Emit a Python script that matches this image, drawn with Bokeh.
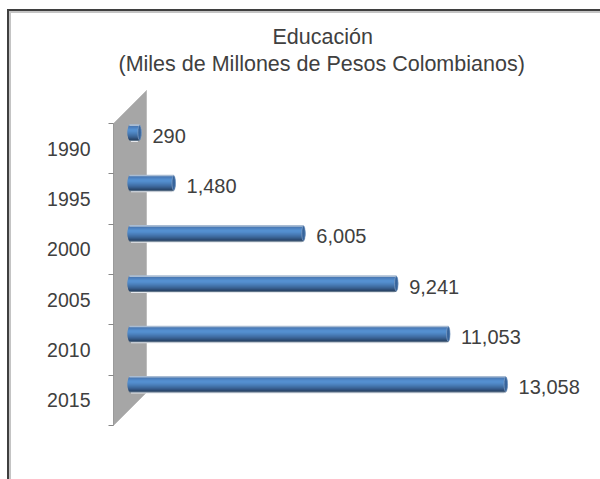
import math
from bokeh.plotting import figure
from bokeh.models import Range1d, FixedTicker, Title, ColumnDataSource
from bokeh.core.properties import value
from bokeh.embed import file_html
from bokeh.resources import INLINE

years = ["1990", "1995", "2000", "2005", "2010", "2015"]
valores = [290, 1480, 6005, 9241, 11053, 13058]
titulo_1 = "Educación"
titulo_2 = "(Miles de Millones de Pesos Colombianos)"

# layout (page pixels -> data)
FONT = "Liberation Sans"
OX, OY = 7, 9
W, H = 600 - OX, 479 - OY
PX_PER_VALUE = 0.02868
ZERO_PX = 132.6
AXIS_PX = 113
FRAME_TOP_PX = 76
PX_PER_CAT = 50.33
CAT_TOP_PX = 123
FRAME_BOTTOM_PX = 479
def dx(px): return px / PX_PER_VALUE
def dy(px): return px / PX_PER_CAT

x0 = -dx(ZERO_PX - AXIS_PX)
x1 = dx(600 - ZERO_PX)
y_top = -dy(CAT_TOP_PX - FRAME_TOP_PX)
y_bot = dy(FRAME_BOTTOM_PX - CAT_TOP_PX)

p = figure(width=W, height=H, output_backend="svg", toolbar_location=None,
           x_range=Range1d(x0, x1), y_range=Range1d(y_bot, y_top),
           min_border_left=AXIS_PX - OX, min_border_right=0, min_border_bottom=0,
           min_border_top=FRAME_TOP_PX - OY,
           outline_line_color=None, background_fill_color=None, border_fill_color=None)
p.margin = (OY, 0, 0, OX)
p.styles = {"box-shadow": "inset 2px 2px 0 #3f3f3f, inset 4px 4px 0 #c4c4c4"}
p.grid.visible = False
p.xaxis.visible = False

n = len(years)
ax = p.yaxis[0]
ax.bounds = (0, n)
ax.ticker = FixedTicker(ticks=[i + 0.5 for i in range(n)], minor_ticks=list(range(n + 1)))
ax.major_label_overrides = {i + 0.5: y for i, y in enumerate(years)}
ax.major_tick_line_color = None
ax.major_tick_in = 0
ax.major_tick_out = 0
ax.minor_tick_in = 0
ax.minor_tick_out = 5
ax.minor_tick_line_color = "#868686"
ax.axis_line_color = "#9a9a9a"
ax.major_label_standoff = 18
ax.major_label_text_font = FONT
ax.major_label_text_font_size = "19.5px"
ax.major_label_text_color = "#404040"

# 3-D wall
DEPTH = 33
p.patch([x0, x0 + dx(DEPTH), x0 + dx(DEPTH), x0],
        [0, -dy(DEPTH), n - dy(DEPTH), n],
        fill_color="#A6A6A6", line_color="#BDBDBD", line_width=1)

# cylinders: stacked rows give the shading (drawn top-down, each overlapping the previous)
rows = ["#a9bcd3", "#4a7ab5", "#4c80bf", "#5088c8", "#5490d0", "#558fd0", "#528ccb", "#4e85c2",
        "#4a7eb9", "#4576ae", "#406ea3", "#3b6597", "#365b89", "#2f4f78", "#2a466b", "#5f7489",
        "#e4e7ec"]
BAR_OFFSET = 16
RADIUS = 3.5
centres = [i + 0.5 - dy(BAR_OFFSET) for i in range(n)]
for k, col in reversed(list(enumerate(rows))):
    t = (k + 0.5 - 8) / 8.5
    inset = RADIUS * (1 - math.sqrt(max(0, 1 - t * t)))
    src = ColumnDataSource(dict(
        y=[c + dy(k + 0.5 - 8) for c in centres],
        left=[-dx(5.6 - inset)] * n,
        right=[v - dx(inset) for v in valores]))
    p.hbar(y="y", left="left", right="right", height=dy(1.6), source=src,
           fill_color=col, line_color=None)

# end cap of each cylinder
cap = ColumnDataSource(dict(x=[v - dx(1.8) for v in valores], y=centres))
p.ellipse(x="x", y="y", width=3.5, height=15, width_units="screen", height_units="screen",
          source=cap, fill_color="#36649c", line_color="#8fa8c8", line_width=0.6)

# data labels
lab = ColumnDataSource(dict(x=valores, y=centres, t=[f"{v:,}" for v in valores]))
p.text(x="x", y="y", text="t", source=lab, x_offset=11, y_offset=3, text_align="left",
       text_baseline="middle", text_font=value(FONT), text_font_size="20px", text_color="#404040")

# titles
t2 = Title(text=titulo_2, align="left", offset=118 - AXIS_PX, standoff=2, text_line_height=0.9,
           text_font=FONT, text_font_size="21.5px", text_font_style="normal", text_color="#404040")
t1 = Title(text=titulo_1, align="left", offset=272 - AXIS_PX, standoff=0, text_line_height=0.9,
           text_font=FONT, text_font_size="21.5px", text_font_style="normal", text_color="#404040")
p.add_layout(t2, "above")
p.add_layout(t1, "above")

open("out.html", "w").write(file_html(p, INLINE))
